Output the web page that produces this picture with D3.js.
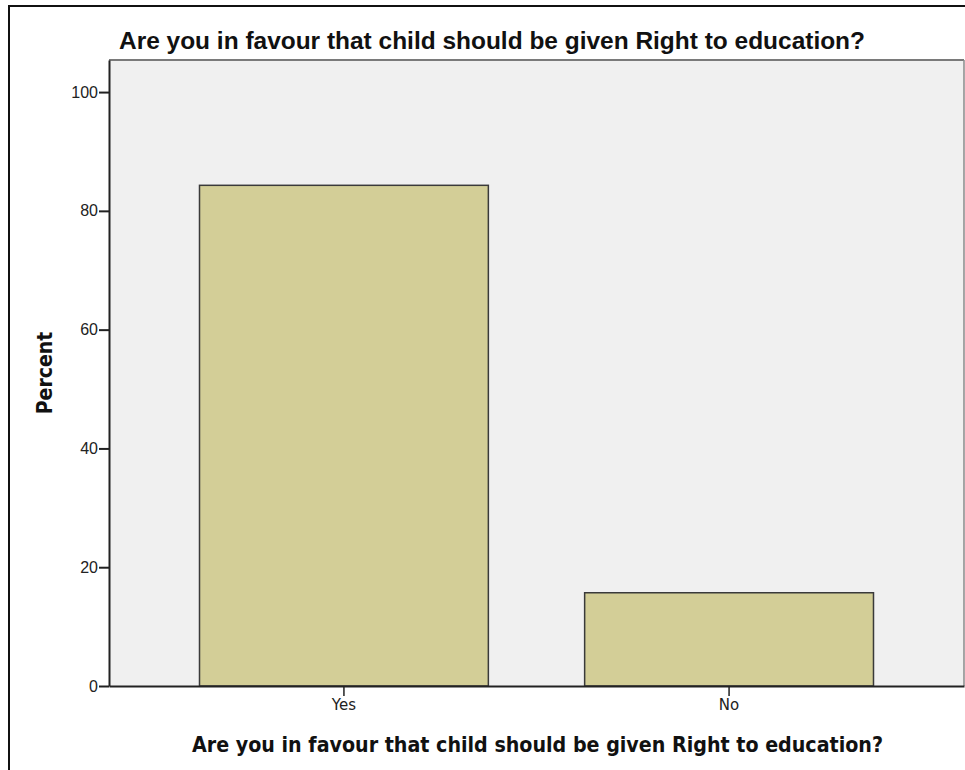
<!DOCTYPE html>
<html>
<head>
<meta charset="utf-8">
<script src="https://cdn.jsdelivr.net/npm/d3@7"></script>
<style>
  html, body { margin: 0; padding: 0; background: #ffffff; }
  svg { display: block; }
</style>
</head>
<body>
<script>
const categories = ["Yes", "No"];
const percentValues = [84.3, 15.7];
const yTickValues = [0, 20, 40, 60, 80, 100];
const titleText = "Are you in favour that child should be given Right to education?";
const xAxisTitle = "Are you in favour that child should be given Right to education?";
const yAxisTitle = "Percent";

const W = 965, H = 770;
const plot = { left: 109, right: 964, top: 60, bottom: 686 };

const svg = d3.select("body").append("svg")
  .attr("width", W).attr("height", H);

// outer frame
svg.append("rect")
  .attr("x", 9).attr("y", 6)
  .attr("width", W + 20).attr("height", H + 20)
  .attr("fill", "#ffffff")
  .attr("stroke", "#111").attr("stroke-width", 2);

// plot background
svg.append("rect")
  .attr("x", plot.left).attr("y", plot.top)
  .attr("width", plot.right - plot.left).attr("height", plot.bottom - plot.top)
  .attr("fill", "#f0f0f0");

// plot frame top/right
svg.append("line")
  .attr("x1", plot.left).attr("x2", plot.right)
  .attr("y1", plot.top).attr("y2", plot.top)
  .attr("stroke", "#7a7a7a").attr("stroke-width", 2);
svg.append("line")
  .attr("x1", plot.right).attr("x2", plot.right)
  .attr("y1", plot.top).attr("y2", plot.bottom)
  .attr("stroke", "#8a8a8a").attr("stroke-width", 1.5);

const x = d3.scaleBand()
  .domain(categories)
  .range([plot.left, plot.right])
  .paddingInner(0.25)
  .paddingOuter(0.235);

const y = d3.scaleLinear()
  .domain([0, 105.4])
  .range([plot.bottom, plot.top]);

// bars
svg.append("g").selectAll("rect")
  .data(categories.map((c, i) => ({ c, v: percentValues[i] })))
  .join("rect")
  .attr("x", d => x(d.c))
  .attr("y", d => y(d.v))
  .attr("width", x.bandwidth())
  .attr("height", d => y(0) - y(d.v))
  .attr("fill", "#d3ce97")
  .attr("stroke", "#3a3a3a")
  .attr("stroke-width", 1.5);

// y axis
const yAxis = svg.append("g")
  .attr("transform", `translate(${plot.left},0)`)
  .call(d3.axisLeft(y).tickValues(yTickValues).tickSize(10).tickSizeOuter(0).tickPadding(1));
yAxis.select(".domain").attr("stroke", "#222").attr("stroke-width", 2);
yAxis.selectAll(".tick line").attr("stroke", "#222").attr("stroke-width", 2);
yAxis.selectAll(".tick text")
  .attr("font-family", "'Liberation Sans', Arial, sans-serif")
  .attr("font-size", 16).attr("fill", "#222");

// x axis
const xAxis = svg.append("g")
  .attr("transform", `translate(0,${plot.bottom})`)
  .call(d3.axisBottom(x).tickSize(10).tickSizeOuter(0).tickPadding(3));
xAxis.select(".domain").attr("stroke", "#222").attr("stroke-width", 2);
xAxis.selectAll(".tick line").attr("stroke", "#222").attr("stroke-width", 1.5);
xAxis.selectAll(".tick text")
  .attr("font-family", "'DejaVu Sans', sans-serif")
  .attr("font-size", 15).attr("fill", "#222");

// title
svg.append("text")
  .attr("x", 119).attr("y", 49)
  .attr("font-family", "'Liberation Sans', Arial, sans-serif")
  .attr("font-weight", "bold")
  .attr("font-size", 24)
  .attr("fill", "#111")
  .attr("textLength", 746)
  .attr("lengthAdjust", "spacingAndGlyphs")
  .text(titleText);

// x axis title
svg.append("text")
  .attr("x", 192).attr("y", 752)
  .attr("font-family", "'DejaVu Sans Condensed', 'DejaVu Sans', sans-serif")
  .attr("font-weight", "bold")
  .attr("font-size", 21)
  .attr("fill", "#111")
  .attr("textLength", 691)
  .attr("lengthAdjust", "spacingAndGlyphs")
  .text(xAxisTitle);

// y axis title
svg.append("text")
  .attr("transform", `translate(52,${(plot.top + plot.bottom) / 2}) rotate(-90)`)
  .attr("text-anchor", "middle")
  .attr("font-family", "'DejaVu Sans Condensed', 'DejaVu Sans', sans-serif")
  .attr("font-weight", "bold")
  .attr("font-size", 21)
  .attr("fill", "#111")
  .text(yAxisTitle);
</script>
</body>
</html>
